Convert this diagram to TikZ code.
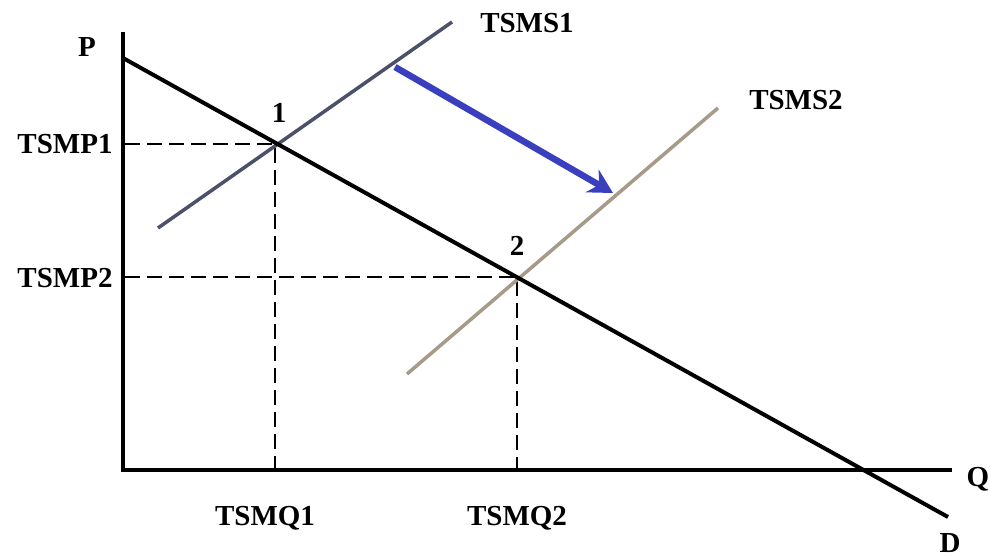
\documentclass[tikz,border=0pt]{standalone}
\usepackage{fontspec}
\setmainfont{Liberation Serif}
\usetikzlibrary{arrows.meta}
\begin{document}
\begin{tikzpicture}[x=1pt,y=-1pt,
  lbl/.style={font=\fontsize{29}{29}\selectfont\bfseries, inner sep=0pt},
  axisline/.style={line width=4.5pt, line join=miter},
  demand/.style={line width=4pt},
  supply1/.style={line width=3.5pt, color=s1col},
  supply2/.style={line width=3.5pt, color=s2col},
  guide/.style={line width=2pt, dash pattern=on 15pt off 7pt},
  shiftarrow/.style={line width=6.5pt, color=arrowcol, -{Stealth[length=24pt,width=26pt,inset=8pt]}}
]
\definecolor{s1col}{HTML}{4B5169}
\definecolor{s2col}{HTML}{A89A88}
\definecolor{arrowcol}{HTML}{3A3FBF}
\useasboundingbox (0,0) rectangle (990,558);
\fill[white] (0,0) rectangle (990,558);

% coordinates
\coordinate (ptop) at (123,32);
\coordinate (O) at (123,470);
\coordinate (qend) at (952,470);
\coordinate (da) at (123,58);
\coordinate (db) at (948,517);
\coordinate (e1) at (275,144);
\coordinate (e2) at (517,277);
\coordinate (e1y) at (125,144);
\coordinate (e2y) at (125,277);
\coordinate (e1x) at (275,468);
\coordinate (e2x) at (517,468);
\coordinate (s1a) at (158,228);
\coordinate (s1b) at (452,22);
\coordinate (s2a) at (407,374);
\coordinate (s2b) at (718,108);
\coordinate (arra) at (395,67);
\coordinate (arrb) at (613,193);

% dashed guides
\draw[guide] (e1y) -- (e1) -- (e1x);
\draw[guide] (e2y) -- (e2) -- (e2x);

% supply curves
\draw[supply1] (s1a) -- (s1b);
\draw[supply2] (s2a) -- (s2b);

% demand
\draw[demand] (da) -- (db);

% axes
\draw[axisline] (ptop) -- (O) -- (qend);

% shift arrow
\draw[shiftarrow] (arra) -- (arrb);

% labels
\node[lbl] (lP) at (87,47) {P};
\node[lbl] (lQ) at (978,479) {Q};
\node[lbl] (lD) at (950,543) {D};
\node[lbl] (lP1) at (65,144) {TSMP1};
\node[lbl] (lP2) at (65,278) {TSMP2};
\node[lbl] (lQ1) at (265,518) {TSMQ1};
\node[lbl] (lQ2) at (517,518) {TSMQ2};
\node[lbl] (lS1) at (527,23) {TSMS1};
\node[lbl] (lS2) at (796,100) {TSMS2};
\node[lbl] (n1) at (279,113) {1};
\node[lbl] (n2) at (517,246) {2};
\end{tikzpicture}
\end{document}
